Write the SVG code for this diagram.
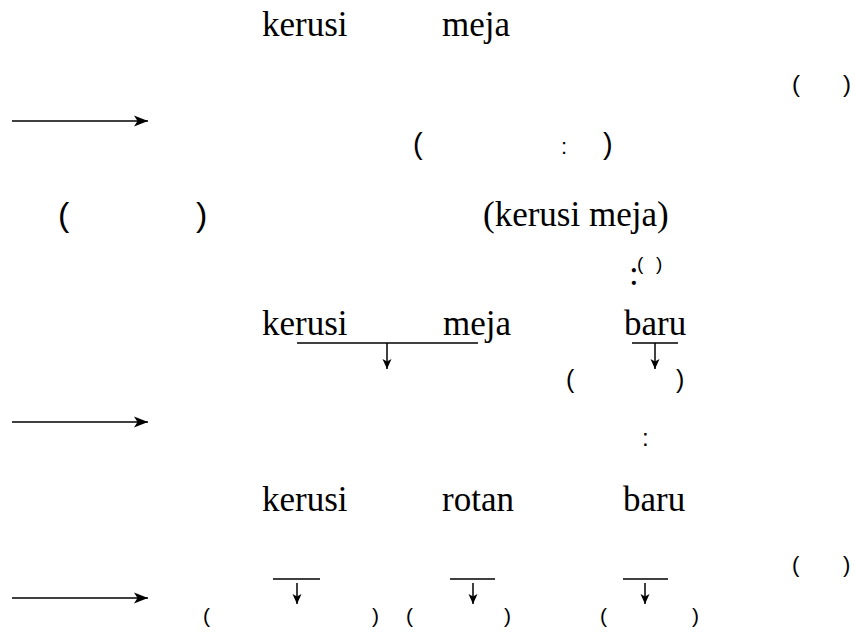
<svg xmlns="http://www.w3.org/2000/svg" width="855" height="632" viewBox="0 0 855 632">
  <defs>
    <style>
      .w { font-family: "Liberation Serif", "Times New Roman", serif; font-size: 35px; fill: #000; }
      .p { font-family: "Liberation Sans", Arial, sans-serif; fill: #000; }
      .ln { stroke: #000; stroke-width: 1.6; fill: none; }
      .bar { stroke: #000; stroke-width: 1.5; fill: none; }
    </style>
    <marker id="headH" markerUnits="userSpaceOnUse" markerWidth="16" markerHeight="14" refX="14" refY="7" orient="auto">
      <path d="M0,1.5 L14,7 L0,12.5 L3.5,7 Z" fill="#000"/>
    </marker>
    <marker id="headV" markerUnits="userSpaceOnUse" markerWidth="12" markerHeight="12" refX="10" refY="5" orient="auto">
      <path d="M0,0.5 L10,5 L0,9.5 L2.5,5 Z" fill="#000"/>
    </marker>
  </defs>

  <rect width="855" height="632" fill="#fff"/>

  <!-- top words -->
  <g id="row1">
    <text class="w" x="262" y="36">kerusi</text>
    <text class="w" x="442" y="36">meja</text>
  </g>

  <g id="row2-right">
    <text class="p" x="792" y="92" font-size="24">(</text>
    <text class="p" x="843" y="92" font-size="24">)</text>
  </g>

  <g id="row3">
    <text class="p" x="413" y="154" font-size="29">(</text>
    <text class="p" x="561" y="154" font-size="22">:</text>
    <text class="p" x="603" y="154" font-size="29">)</text>
  </g>

  <g id="row4">
    <text class="p" x="58" y="226" font-size="34">(</text>
    <text class="p" x="196" y="226" font-size="34">)</text>
    <text class="w" x="483" y="226">(kerusi meja)</text>
  </g>

  <g id="row5">
    <text class="w" x="629" y="285">:</text>
    <text class="p" x="637" y="270" font-size="19">(</text>
    <text class="p" x="656" y="270" font-size="19">)</text>
  </g>

  <g id="row6">
    <text class="w" x="262" y="335">kerusi</text>
    <text class="w" x="443" y="335">meja</text>
    <text class="w" x="624" y="335">baru</text>
  </g>

  <g id="row7">
    <text class="p" x="566" y="388" font-size="25">(</text>
    <text class="p" x="676" y="388" font-size="25">)</text>
  </g>

  <g id="row8">
    <text class="p" x="642" y="446" font-size="24">:</text>
  </g>

  <g id="row9">
    <text class="w" x="262" y="511">kerusi</text>
    <text class="w" x="442" y="511">rotan</text>
    <text class="w" x="623" y="511">baru</text>
  </g>

  <g id="row9-right">
    <text class="p" x="792" y="572" font-size="22">(</text>
    <text class="p" x="843" y="572" font-size="22">)</text>
  </g>

  <g id="row10">
    <text class="p" x="203" y="623" font-size="21">(</text>
    <text class="p" x="372" y="623" font-size="21">)</text>
    <text class="p" x="406" y="623" font-size="21">(</text>
    <text class="p" x="504" y="623" font-size="21">)</text>
    <text class="p" x="600" y="623" font-size="21">(</text>
    <text class="p" x="692" y="623" font-size="21">)</text>
  </g>

  <!-- connectors -->
  <g id="connectors">
    <line class="ln" x1="12" y1="121" x2="148" y2="121" marker-end="url(#headH)"/>
    <line class="ln" x1="12" y1="422" x2="148" y2="422" marker-end="url(#headH)"/>
    <line class="ln" x1="12" y1="598" x2="148" y2="598" marker-end="url(#headH)"/>

    <line class="bar" x1="297" y1="343" x2="478" y2="343"/>
    <line class="bar" x1="387" y1="343" x2="387" y2="369" marker-end="url(#headV)"/>
    <line class="bar" x1="632" y1="343" x2="678" y2="343"/>
    <line class="bar" x1="655" y1="343" x2="655" y2="369" marker-end="url(#headV)"/>

    <line class="bar" x1="273" y1="579" x2="320" y2="579"/>
    <line class="bar" x1="297" y1="583" x2="297" y2="604" marker-end="url(#headV)"/>
    <line class="bar" x1="450" y1="579" x2="495" y2="579"/>
    <line class="bar" x1="473" y1="583" x2="473" y2="604" marker-end="url(#headV)"/>
    <line class="bar" x1="623" y1="579" x2="668" y2="579"/>
    <line class="bar" x1="645" y1="583" x2="645" y2="604" marker-end="url(#headV)"/>
  </g>
</svg>
